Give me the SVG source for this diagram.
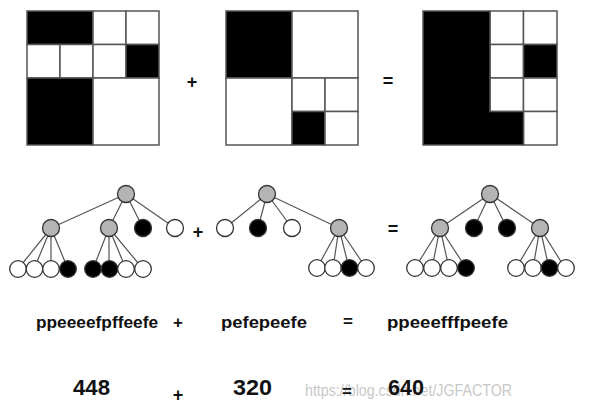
<svg xmlns="http://www.w3.org/2000/svg" width="590" height="410" viewBox="0 0 590 410">
<style>
.c{stroke:#555;stroke-width:1.5}
.b{fill:#000}.w{fill:#fff}
.n{stroke:#333;stroke-width:1.3}
.g{fill:#b4b4b4}
.e{stroke:#555;stroke-width:1.2;fill:none}
.t{font-family:"Liberation Sans",Arial,sans-serif;font-weight:bold;fill:#111}
.wm{font-family:"Liberation Sans",Arial,sans-serif;fill:#c8c8c8}
</style>
<rect width="590" height="410" fill="#fff"/>
<g id="grid1">
<rect class="c b" x="27" y="11" width="66" height="33.5"/>
<rect class="c w" x="93" y="11" width="33" height="33.5"/>
<rect class="c w" x="126" y="11" width="33" height="33.5"/>
<rect class="c w" x="27" y="44.5" width="33" height="33.5"/>
<rect class="c w" x="60" y="44.5" width="33" height="33.5"/>
<rect class="c w" x="93" y="44.5" width="33" height="33.5"/>
<rect class="c b" x="126" y="44.5" width="33" height="33.5"/>
<rect class="c b" x="27" y="78" width="66" height="67"/>
<rect class="c w" x="93" y="78" width="66" height="67"/>
</g>
<g id="grid2">
<rect class="c b" x="226" y="11" width="66" height="67"/>
<rect class="c w" x="292" y="11" width="66" height="67"/>
<rect class="c w" x="226" y="78" width="66" height="67"/>
<rect class="c w" x="292" y="78" width="33" height="33.5"/>
<rect class="c w" x="325" y="78" width="33" height="33.5"/>
<rect class="c b" x="292" y="111.5" width="33" height="33.5"/>
<rect class="c w" x="325" y="111.5" width="33" height="33.5"/>
</g>
<g id="grid3">
<rect class="c w" x="490" y="11" width="33.5" height="33.5"/>
<rect class="c w" x="523.5" y="11" width="33.5" height="33.5"/>
<rect class="c w" x="490" y="44.5" width="33.5" height="33.5"/>
<rect class="c b" x="523.5" y="44.5" width="33.5" height="33.5"/>
<rect class="c w" x="490" y="78" width="33.5" height="33.5"/>
<rect class="c w" x="523.5" y="78" width="33.5" height="33.5"/>
<rect class="c w" x="523.5" y="111.5" width="33.5" height="33.5"/>
<path class="b" d="M423 11H490V111.5H523.5V145H423Z" stroke="#555" stroke-width="1.5"/>
</g>
<g id="ops-top" class="t" font-size="18" text-anchor="middle">
<text x="192" y="88">+</text>
<text x="388" y="87">=</text>
</g>
<g id="connectors" class="e">
<path d="M126 194L51 228M126 194L109 228M126 194L143 228M126 194L175 228"/>
<path d="M51 228L18 269M51 228L34 269M51 228L51 269M51 228L68 269"/>
<path d="M109 228L93 269M109 228L109 269M109 228L126 269M109 228L143 269"/>
<path d="M267 194L225 228M267 194L258 228M267 194L292 228M267 194L339 228"/>
<path d="M339 228L317 268M339 228L333 268M339 228L349 268M339 228L366 268"/>
<path d="M490 194L440 228M490 194L474 228M490 194L507 228M490 194L540 228"/>
<path d="M440 228L415 268M440 228L432 268M440 228L449 268M440 228L466 268"/>
<path d="M540 228L516 268M540 228L533 268M540 228L549 268M540 228L565 268"/>
</g>
<g id="tree1" class="n">
<circle class="g" cx="126" cy="194" r="8.5"/>
<circle class="g" cx="51" cy="228" r="8.5"/>
<circle class="g" cx="109" cy="228" r="8.5"/>
<circle class="b" cx="143" cy="228" r="8.5"/>
<circle class="w" cx="175" cy="228" r="8.5"/>
<circle class="w" cx="18" cy="269" r="8.3"/>
<circle class="w" cx="34.5" cy="269" r="8.3"/>
<circle class="w" cx="51" cy="269" r="8.3"/>
<circle class="b" cx="68" cy="269" r="8.3"/>
<circle class="b" cx="93" cy="269" r="8.3"/>
<circle class="b" cx="109.5" cy="269" r="8.3"/>
<circle class="w" cx="126" cy="269" r="8.3"/>
<circle class="w" cx="143" cy="269" r="8.3"/>
</g>
<g id="tree2" class="n">
<circle class="g" cx="267" cy="194" r="8.5"/>
<circle class="w" cx="225" cy="228" r="8.5"/>
<circle class="b" cx="258" cy="228" r="8.5"/>
<circle class="w" cx="292" cy="228" r="8.5"/>
<circle class="g" cx="339" cy="228" r="8.5"/>
<circle class="w" cx="317" cy="268" r="8.3"/>
<circle class="w" cx="333" cy="268" r="8.3"/>
<circle class="b" cx="349.5" cy="268" r="8.3"/>
<circle class="w" cx="366" cy="268" r="8.3"/>
</g>
<g id="tree3" class="n">
<circle class="g" cx="490" cy="194" r="8.5"/>
<circle class="g" cx="440" cy="228" r="8.5"/>
<circle class="b" cx="474" cy="228" r="8.5"/>
<circle class="b" cx="507" cy="228" r="8.5"/>
<circle class="g" cx="540" cy="228" r="8.5"/>
<circle class="w" cx="415" cy="268" r="8.3"/>
<circle class="w" cx="432" cy="268" r="8.3"/>
<circle class="w" cx="449" cy="268" r="8.3"/>
<circle class="b" cx="466" cy="268" r="8.3"/>
<circle class="w" cx="516" cy="268" r="8.3"/>
<circle class="w" cx="533" cy="268" r="8.3"/>
<circle class="b" cx="549.5" cy="268" r="8.3"/>
<circle class="w" cx="566" cy="268" r="8.3"/>
</g>
<g id="ops-mid" class="t" font-size="18" text-anchor="middle">
<text x="198" y="238">+</text>
<text x="393" y="235">=</text>
</g>
<g id="codes" class="t" font-size="16">
<text x="36" y="328" textLength="122" lengthAdjust="spacingAndGlyphs">ppeeeefpffeefe</text>
<text x="178" y="328" text-anchor="middle" font-size="17">+</text>
<text x="221" y="328" textLength="86" lengthAdjust="spacingAndGlyphs">pefepeefe</text>
<text x="348" y="327" text-anchor="middle" font-size="17">=</text>
<text x="387" y="328" textLength="121" lengthAdjust="spacingAndGlyphs">ppeeefffpeefe</text>
</g>
<text class="wm" x="305" y="396" font-size="17" textLength="207" lengthAdjust="spacingAndGlyphs">https://blog.csdn.net/JGFACTOR</text>
<g id="numbers" class="t" font-size="22">
<text x="73" y="395" textLength="37" lengthAdjust="spacingAndGlyphs">448</text>
<text x="178" y="401" text-anchor="middle" font-size="18">+</text>
<text x="233" y="395" textLength="39" lengthAdjust="spacingAndGlyphs">320</text>
<text x="347" y="397" text-anchor="middle" font-size="17">=</text>
<text x="388" y="395" textLength="36" lengthAdjust="spacingAndGlyphs">640</text>
</g>
</svg>
